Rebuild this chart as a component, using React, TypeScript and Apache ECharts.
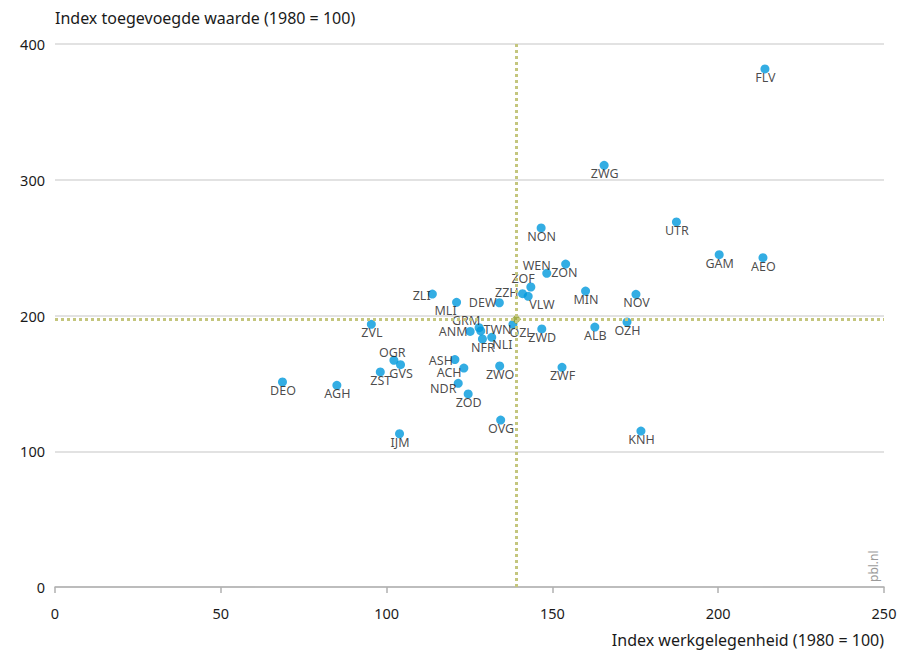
import React, { useEffect, useRef } from "react";
import * as echarts from "echarts";

// Regions (COROP-like codes)
const regionCodes = [
  "FLV", "ZWG", "UTR", "GAM", "AEO", "NON", "WEN", "ZON", "ZOF", "ZZH",
  "VLW", "ZLI", "MLI", "DEW", "MIN", "NOV", "ZVL", "GRM", "ANM", "TWN",
  "OZL", "ZWD", "ALB", "OZH", "NFR", "NLI", "OGR", "GVS", "ZST", "ASH",
  "ACH", "ZWO", "ZWF", "NDR", "ZOD", "OVG", "IJM", "KNH", "DEO", "AGH",
];
// Index werkgelegenheid (1980 = 100)
const employmentIndex = [
  214.1, 165.6, 187.4, 200.3, 213.5, 146.6, 148.3, 154.0, 143.5, 141.0,
  142.7, 113.8, 121.1, 134.0, 160.0, 175.2, 95.4, 127.9, 125.2, 128.4,
  138.1, 146.8, 162.8, 172.5, 128.9, 131.7, 102.2, 104.2, 98.1, 120.6,
  123.3, 134.1, 152.9, 121.6, 124.6, 134.4, 103.9, 176.7, 68.6, 85.0,
];
// Index toegevoegde waarde (1980 = 100)
const valueAddedIndex = [
  381.6, 310.6, 268.9, 244.8, 242.6, 264.5, 231.1, 237.9, 221.0, 216.1,
  214.1, 215.8, 209.7, 209.4, 218.0, 215.6, 193.5, 191.0, 188.3, 188.6,
  193.5, 190.1, 191.5, 195.2, 182.7, 183.9, 167.0, 163.8, 158.4, 167.5,
  161.3, 162.8, 161.8, 150.0, 142.2, 123.0, 112.9, 114.9, 151.0, 148.6,
];
// Netherlands average
const averagePoint = [139.1, 197.2];

const xTicks = { min: 0, max: 250, interval: 50 };
const yTicks = { min: 0, max: 400, interval: 100 };

// label placement (text centre relative to dot centre, in px)
const labelOffsets: Record<string, [number, number]> = {
  WEN: [-10, -7.7],
  ZON: [-1.3, 8],
  ZOF: [-7.7, -8],
  ZZH: [-15.7, -1],
  VLW: [13.7, 8.3],
  ZLI: [-10.7, 1.3],
  MLI: [-11, 7.7],
  DEW: [-16.7, -0.7],
  GRM: [-13, -7],
  ANM: [-17, 0.3],
  TWN: [16.7, -1.7],
  OZL: [8.3, 8.3],
  NLI: [10.7, 7.3],
  OGR: [-1.7, -7.3],
  ASH: [-14, 1],
  ACH: [-14.7, 4],
  NDR: [-15, 5],
};
const defaultOffset: [number, number] = [0.5, 8.5];

const FONT = "'Noto Sans', 'Open Sans', sans-serif";

export default function App() {
  const ref = useRef<HTMLDivElement>(null);
  useEffect(() => {
    if (!ref.current) return;
    const chart = echarts.init(ref.current, undefined, { renderer: "svg" });
    const data = regionCodes.map((n, i) => ({
      name: n,
      value: [employmentIndex[i], valueAddedIndex[i]],
      label: { offset: labelOffsets[n] ?? defaultOffset },
    }));
    chart.setOption({
      animation: false,
      textStyle: { fontFamily: FONT },
      grid: { left: 55, right: 21, top: 44, bottom: 69 },
      xAxis: {
        type: "value",
        ...xTicks,
        axisLine: { show: true, lineStyle: { color: "#b0b0b0", width: 1.5 } },
        axisTick: { show: true, length: 6, lineStyle: { color: "#b0b0b0", width: 1.5 } },
        splitLine: { show: false },
        axisLabel: { margin: 18, color: "#1a1a1a", fontSize: 14.5, fontFamily: FONT },
      },
      yAxis: {
        type: "value",
        ...yTicks,
        axisLine: { show: false },
        axisTick: { show: false },
        splitLine: { show: true, lineStyle: { color: "#d9d9d9", width: 1.5 } },
        axisLabel: { margin: 10, color: "#1a1a1a", fontSize: 14.5, fontFamily: FONT },
      },
      graphic: [
        {
          type: "text",
          left: 55,
          top: 10,
          style: { text: "Index toegevoegde waarde (1980 = 100)", fontSize: 16, fill: "#1a1a1a", fontFamily: FONT },
        },
        {
          type: "text",
          right: 21,
          top: 632,
          style: { text: "Index werkgelegenheid (1980 = 100)", fontSize: 16, fill: "#1a1a1a", fontFamily: FONT },
        },
        {
          type: "text",
          x: 873,
          y: 582,
          rotation: Math.PI / 2,
          style: { text: "pbl.nl", fontSize: 12, fill: "#9a9a9a", fontFamily: FONT, align: "left", verticalAlign: "middle" },
        },
      ],
      series: [
        {
          type: "scatter",
          symbol: "circle",
          symbolSize: 9,
          itemStyle: { color: "#0098dc" },
          data,
          z: 3,
          label: {
            show: true,
            position: "inside",
            formatter: "{b}",
            align: "center",
            verticalAlign: "middle",
            color: "#1a1a1a",
            fontSize: 12.5,
            fontFamily: FONT,
          },
          markLine: {
            silent: true,
            symbol: ["none", "none"],
            label: { show: false },
            lineStyle: { type: "dotted", width: 3, color: "#c4c67e" },
            data: [{ xAxis: averagePoint[0] }, { yAxis: averagePoint[1] }],
          },
        },
        {
          type: "scatter",
          symbol: "diamond",
          symbolSize: 10,
          itemStyle: { color: "#8a9a1e" },
          data: [averagePoint],
          z: 4,
        },
      ],
    });
    return () => chart.dispose();
  }, []);
  return (
    <div
      ref={ref}
      style={{ position: "fixed", left: 0, top: 0, width: 905, height: 656, background: "#fff" }}
    />
  );
}
